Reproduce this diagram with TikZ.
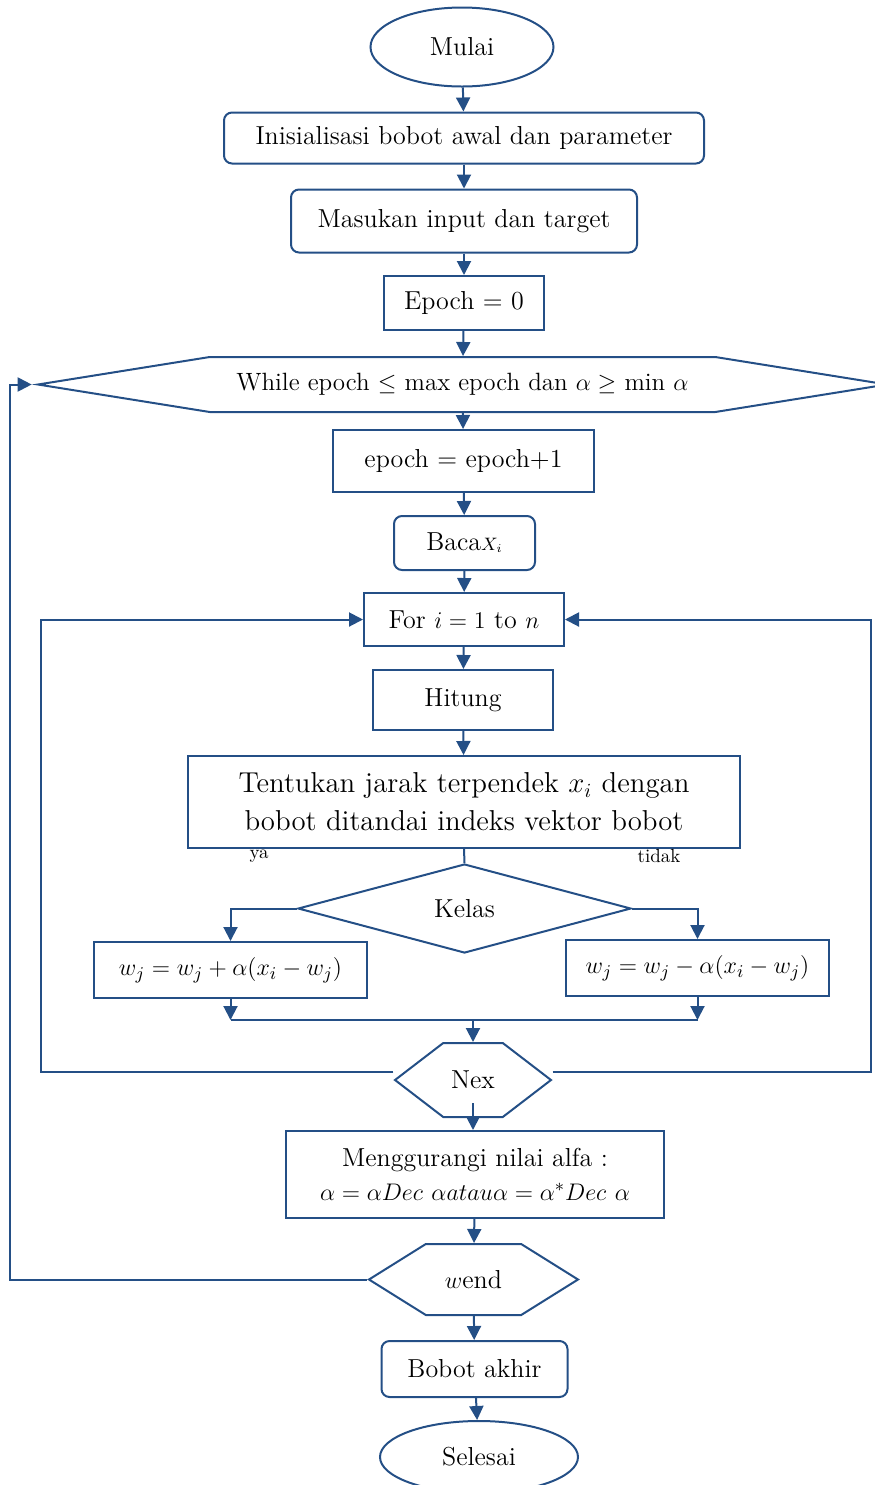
\documentclass[tikz,border=0pt]{standalone}
\usetikzlibrary{arrows.meta,shapes.geometric,shapes.symbols}
\definecolor{flowblue}{RGB}{36,79,134}
\begin{document}
\begin{tikzpicture}[x=.5pt, y=-.5pt, color=flowblue, line width=1pt,
    >={Triangle[length=7pt,width=7pt]},
    every node/.style={text=black, inner sep=0pt, font=\fontsize{13}{17}\selectfont},
    box/.style={draw, rectangle, align=center},
    rbox/.style={box, rounded corners=4pt},
    oval/.style={draw, ellipse},
    hexa/.style={draw, signal, signal to=west and east},
    cond/.style={draw, diamond}]
\useasboundingbox (0,0) rectangle (874,1485);
\node (mulai) at (462,47) [oval, minimum width=91.5pt, minimum height=39.5pt]{Mulai};
\node (init) at (464,138) [rbox, minimum width=240pt, minimum height=25.5pt]{Inisialisasi bobot awal dan parameter};
\node (input) at (464,221) [rbox, minimum width=173pt, minimum height=31.5pt]{Masukan input dan target};
\node (epochnol) at (464,303) [box, minimum width=80pt, minimum height=27pt]{Epoch = 0};
\node (while) at (462.5,384.5) [hexa, signal pointer angle=18.2, minimum width=424.5pt, minimum height=27.5pt, font=\fontsize{12.5}{15}\selectfont]{While epoch $\leq$ max epoch dan $\alpha \geq$ min $\alpha$};
\node (epochplus) at (463.5,461) [box, minimum width=130.5pt, minimum height=31pt]{epoch = epoch+1};
\node (baca) at (464.5,543) [rbox, minimum width=70.5pt, minimum height=27pt]{Baca$\scriptstyle X_i$};
\node (for) at (464,619.5) [box, minimum width=100pt, minimum height=26.5pt]{For $i = 1$ to $n$};
\node (hitung) at (463,700) [box, minimum width=90pt, minimum height=30pt]{Hitung};
\node (jarak) at (464,802) [box, minimum width=276pt, minimum height=46pt, font=\fontsize{14.4}{19}\selectfont]{Tentukan jarak terpendek $x_i$ dengan\\bobot ditandai indeks vektor bobot};
\node (ya) at (259,856) [font=\fontsize{9.5}{11}\selectfont]{ya};
\node (tidak) at (659,856) [font=\fontsize{9.5}{11}\selectfont]{tidak};
\node (kelas) at (464.5,908.5) [cond, minimum width=166.5pt, minimum height=44.5pt]{Kelas};
\node (tambah) at (230.5,970) [box, minimum width=136.5pt, minimum height=28pt]{$w_j = w_j + \alpha(x_i - w_j)$};
\node (kurangw) at (697.5,968) [box, minimum width=131.5pt, minimum height=28pt]{$w_j = w_j - \alpha(x_i - w_j)$};
\coordinate (gabung) at (473,1020);
\node (nex) at (473,1080) [hexa, signal pointer angle=75, minimum width=78pt, minimum height=37pt]{Nex};
\node (alfa) at (475,1174.5) [box, minimum width=189pt, minimum height=43.5pt]{Menggurangi nilai alfa :\\$\alpha = \alpha Dec\ \alpha atau\alpha = \alpha^{*}Dec\ \alpha$};
\node (wend) at (473.5,1279.5) [hexa, signal pointer angle=64, minimum width=104.5pt, minimum height=35.5pt]{$w$end};
\node (akhir) at (474.5,1369) [rbox, minimum width=93pt, minimum height=28pt]{Bobot akhir};
\node (selesai) at (479,1457) [oval, minimum width=99pt, minimum height=36pt]{Selesai};
\draw[->](mulai)--(init);
\draw[->](init)--(input);
\draw[->](input)--(epochnol);
\draw[->](epochnol)--(while);
\draw[->](while)--(epochplus);
\draw[->](epochplus)--(baca);
\draw[->](baca)--(for);
\draw[->](for)--(hitung);
\draw[->](hitung)--(jarak);
\draw(jarak.south)--(kelas.north);
\draw[->](kelas.west)-|(tambah.north);
\draw[->](kelas.east)-|(kurangw.north);
\draw[->](tambah.south)--(tambah.south|-gabung);
\draw[->](kurangw.south)--(kurangw.south|-gabung);
\draw(tambah.south|-gabung)--(kurangw.south|-gabung);
\draw[->](gabung)--(nex.north);
\draw[->]([yshift=4pt]nex.west)--++(-352,0)|-(for.west);
\draw[->]([yshift=4pt]nex.east)--++(318,0)|-(for.east);
\draw[->]([yshift=7.5pt]nex.south)--(nex.south|-alfa.north);
\draw[->](alfa)--(wend);
\draw[->](wend.west)--++(-357,0)|-(while.west);
\draw[->](wend)--(akhir);
\draw[->](akhir)--(selesai);
\end{tikzpicture}
\end{document}
